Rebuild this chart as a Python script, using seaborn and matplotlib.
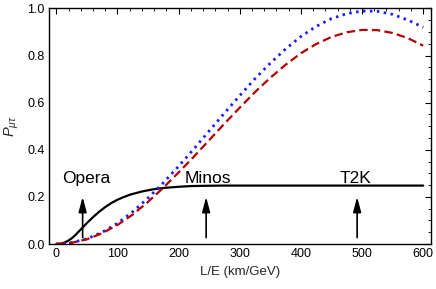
import numpy as np
import pandas as pd
import matplotlib
matplotlib.use("Agg")
import matplotlib.pyplot as plt
import seaborn as sns
from matplotlib.ticker import MultipleLocator

sns.set_theme(style="white")
plt.rcParams['font.family'] = ['Liberation Sans', 'DejaVu Sans']
plt.rcParams['mathtext.fontset'] = 'custom'
plt.rcParams['mathtext.rm'] = 'Liberation Sans'
plt.rcParams['mathtext.it'] = 'Liberation Sans:italic'

# L/E values (km/GeV)
le_osc = [0, 25, 50, 75, 100, 125, 150, 175, 200, 225, 250, 275, 300, 325,
          350, 375, 400, 425, 450, 475, 500, 525, 550, 575, 600]
p_blue = [0, .006, .022, .050, .088, .137, .195, .260, .330, .404, .480, .556,
          .630, .702, .768, .828, .881, .924, .957, .978, .989, .988, .975,
          .951, .920]
p_red = [0, .005, .020, .046, .081, .125, .179, .239, .304, .371, .441, .511,
         .579, .645, .706, .761, .810, .849, .879, .899, .909, .908, .896,
         .874, .842]

le_avg = [0, 5, 10, 15, 20, 25, 30, 40, 50, 60, 70, 80, 90, 100, 110, 120,
          140, 160, 180, 200, 220, 240, 270, 300, 400, 500, 600]
p_black = [0, 0.0005, 0.003, 0.008, 0.015, 0.024, 0.035, 0.062, 0.089, 0.114,
           0.137, 0.157, 0.174, 0.188, 0.199, 0.209, 0.223, 0.233, 0.239,
           0.243, 0.246, 0.247, 0.248, 0.248, 0.248, 0.248, 0.248]

experiments = ["Opera", "Minos", "T2K"]
exp_le = [43, 245, 492]
label_le = [49, 248, 489]

df_blue = pd.DataFrame({"LE": le_osc, "P": p_blue})
df_red = pd.DataFrame({"LE": le_osc, "P": p_red})
df_black = pd.DataFrame({"LE": le_avg, "P": p_black})

fig = plt.figure(figsize=(4.36, 2.89), dpi=100)
ax = fig.add_axes([0.1124, 0.1557, 0.875, 0.815])

sns.lineplot(data=df_black, x="LE", y="P", ax=ax, color="black", lw=1.6,
             estimator=None, sort=False)
sns.lineplot(data=df_blue, x="LE", y="P", ax=ax, color="#1a1aff", lw=2.0,
             estimator=None, sort=False, linestyle=(0, (0.9, 1.6)))
sns.lineplot(data=df_red, x="LE", y="P", ax=ax, color="#b30000", lw=1.6,
             estimator=None, sort=False, linestyle=(0, (3.8, 1.9)))

for name, xa, xl in zip(experiments, exp_le, label_le):
    ax.annotate("", xy=(xa, 0.20), xytext=(xa, 0.027),
                arrowprops=dict(arrowstyle="-|>,head_length=0.75,head_width=0.2",
                                color="black", lw=1.2, shrinkA=0, shrinkB=0))
    ax.text(xl, 0.28, name, ha="center", va="center", fontsize=12.5, color="black")

ax.set_xlim(-12, 612)
ax.set_ylim(0, 1)
ax.xaxis.set_major_locator(MultipleLocator(100))
ax.xaxis.set_minor_locator(MultipleLocator(20))
ax.yaxis.set_major_locator(MultipleLocator(0.2))
ax.yaxis.set_minor_locator(MultipleLocator(0.05))
ax.yaxis.set_major_formatter(matplotlib.ticker.FormatStrFormatter('%.1f'))
ax.tick_params(which="both", direction="in", top=True, right=True,
               labelsize=9, colors="black", pad=3)
ax.tick_params(which="major", length=4, width=0.8)
ax.tick_params(which="minor", length=2, width=0.6)
for s in ax.spines.values():
    s.set_color("black")
    s.set_linewidth(1.0)

ax.set_xlabel("L/E (km/GeV)", fontsize=9.5, labelpad=4)
ax.set_ylabel(r"$P_{\mu\tau}$", fontsize=10.5, labelpad=5)

fig.savefig("out.png", dpi=100)
